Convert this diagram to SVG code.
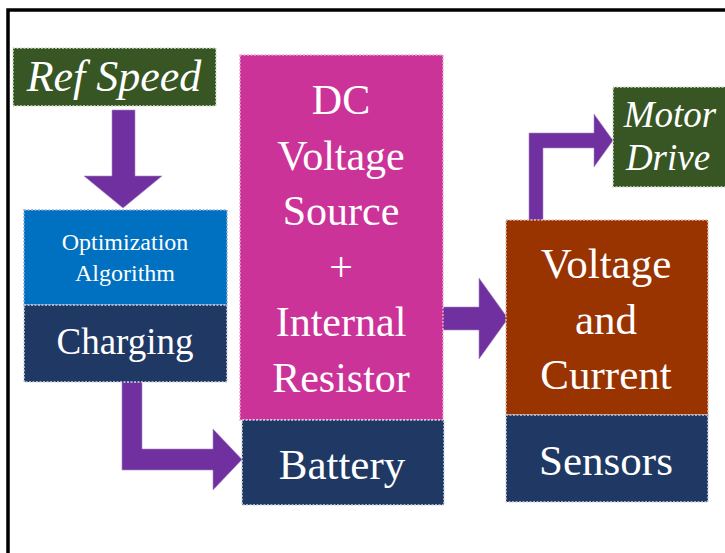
<svg xmlns="http://www.w3.org/2000/svg" width="725" height="553" viewBox="0 0 725 553">
<defs>
<style>
.t{font-family:"Liberation Serif","Times New Roman",serif;fill:#ffffff;text-anchor:middle}
.i{font-style:italic}
.b{stroke-width:1.5;stroke-dasharray:2 1.5}
.arr{fill:#7030A0;stroke:#A98CC8;stroke-width:0.6}
</style>
</defs>
<rect x="0" y="0" width="725" height="553" fill="#ffffff"/>
<rect x="8" y="10" width="740" height="580" fill="none" stroke="#000000" stroke-width="3.5"/>
<g id="connectors">
<polygon class="arr" points="112,110 135,110 135,176 162,176 123,208 84,176 112,176"/>
<polygon class="arr" points="122,380 142,380 142,449 213,449 213,429 242,459.5 213,490 213,470 122,470"/>
<polygon class="arr" points="442,307 479,307 479,278 508,318.5 479,359 479,330 442,330"/>
<polygon class="arr" points="529,220 529,133 594,133 594,114 613,140.5 594,167 594,148 543,148 543,220"/>
</g>
<g id="ref-speed">
<rect class="b" x="13" y="48" width="203" height="58" fill="#375623" stroke="#d8e0d0"/>
<text class="t i" x="114" y="91" font-size="44">Ref Speed</text>
</g>
<g id="optimization">
<rect class="b" x="24" y="210" width="203" height="95" fill="#0070C0" stroke="#8FAADC"/>
<text class="t" x="125" y="250" font-size="24">Optimization</text>
<text class="t" x="125" y="281" font-size="24">Algorithm</text>
</g>
<g id="charging">
<rect class="b" x="24" y="305" width="203" height="77" fill="#203864" stroke="#d0d6e4"/>
<text class="t" x="125" y="354" font-size="37">Charging</text>
</g>
<g id="dc-source">
<rect class="b" x="240" y="55" width="203" height="365" fill="#CC3399" stroke="#e8a8d0"/>
<text class="t" x="341" y="114" font-size="42">DC</text>
<text class="t" x="341" y="169.5" font-size="42">Voltage</text>
<text class="t" x="341" y="225" font-size="42">Source</text>
<text class="t" x="341" y="280.5" font-size="42">+</text>
<text class="t" x="341" y="336" font-size="42">Internal</text>
<text class="t" x="341" y="391.5" font-size="42">Resistor</text>
</g>
<g id="battery">
<rect class="b" x="242" y="420" width="202" height="85" fill="#203864" stroke="#d0d6e4"/>
<text class="t" x="342" y="479" font-size="43">Battery</text>
</g>
<g id="voltage-current">
<rect class="b" x="506" y="220" width="202" height="195" fill="#993300" stroke="#e0c0b0"/>
<text class="t" x="606" y="278" font-size="43">Voltage</text>
<text class="t" x="606" y="333.5" font-size="43">and</text>
<text class="t" x="606" y="389" font-size="43">Current</text>
</g>
<g id="sensors">
<rect class="b" x="506" y="415" width="202" height="87" fill="#203864" stroke="#d0d6e4"/>
<text class="t" x="606" y="475" font-size="43">Sensors</text>
</g>
<g id="motor-drive">
<rect class="b" x="613" y="87" width="115" height="100" fill="#375623" stroke="#d8e0d0"/>
<text class="t i" x="670" y="127" font-size="37">Motor</text>
<text class="t i" x="668" y="170" font-size="37">Drive</text>
</g>
</svg>
